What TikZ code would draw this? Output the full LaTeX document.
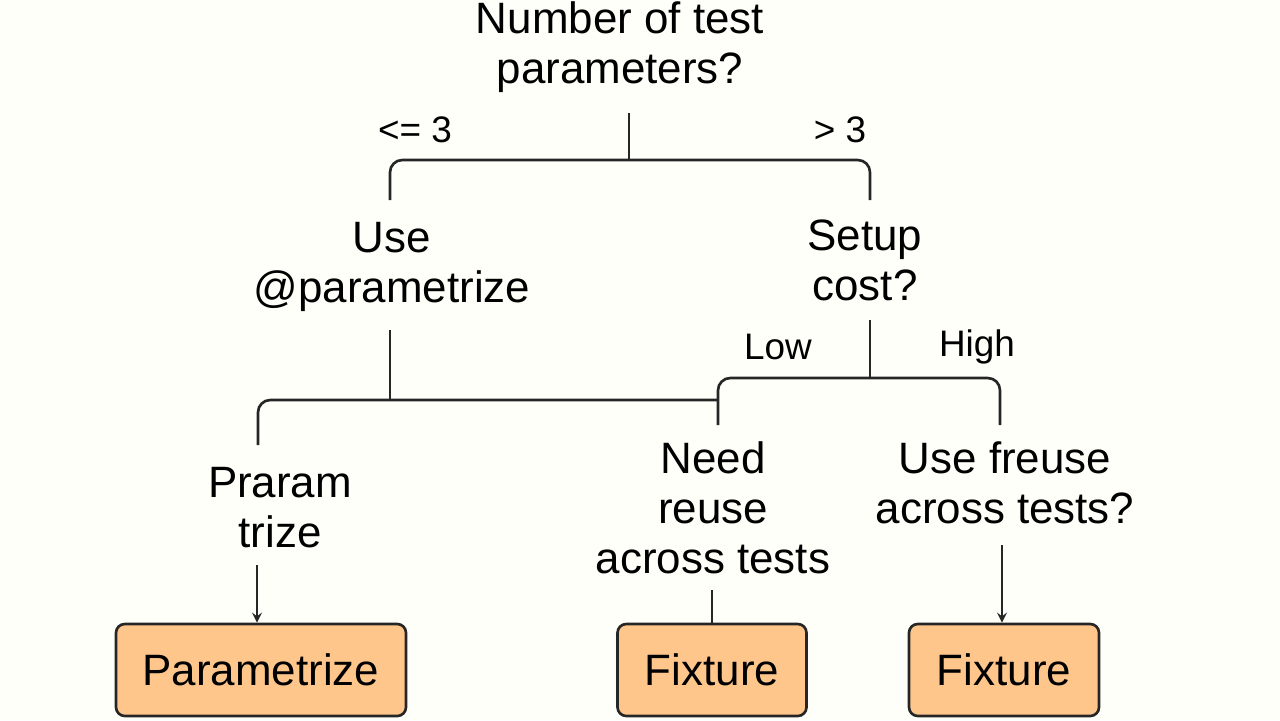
\documentclass[tikz,border=0pt]{standalone}
\usepackage{fontspec}
\setmainfont{Liberation Sans}
\begin{document}
\begin{tikzpicture}[x=0.02cm,y=-0.02cm,
  txt/.style={align=center,font=\fontsize{25}{28.5}\selectfont,inner sep=0pt},
  lbl/.style={font=\fontsize{21}{24}\selectfont,inner sep=0pt},
  ln/.style={line width=1.5pt,draw=black!85,rounded corners=7pt},
  arr/.style={line width=1.5pt,draw=black!85,->,>=stealth},
  box/.style={draw=black!85,line width=1.5pt,fill=orange!45!white,rounded corners=5pt,font=\fontsize{25}{29}\selectfont,inner sep=0pt}]
\fill[yellow!2!white] (0,0) rectangle (1280,720);
\useasboundingbox (0,0) rectangle (1280,720);
\node[txt] (q1) at (620,47) {Number of test\\parameters?};
\node[lbl] (l1) at (415,130) {<= 3};
\node[lbl] (l2) at (840,130) {> 3};
\node[txt] (up) at (392,267) {Use\\@parametrize};
\node[txt] (q2) at (865,260) {Setup\\cost?};
\node[lbl] (l3) at (778,347) {Low};
\node[lbl] (l4) at (977,347) {High};
\node[txt] (pt) at (280,508) {Praram\\trize};
\node[txt] (nr) at (713,508) {Need\\reuse\\across tests};
\node[txt] (uf) at (1005,483) {Use freuse\\across tests?};
\node[box,minimum width=290*0.02cm,minimum height=92*0.02cm] (b1) at (261,670) {Parametrize};
\node[box,minimum width=189*0.02cm,minimum height=92*0.02cm] (b2) at (712,670) {Fixture};
\node[box,minimum width=190*0.02cm,minimum height=92*0.02cm] (b3) at (1004,670) {Fixture};
\coordinate (t1) at (629,113);
\coordinate (t2) at (629,160);
\draw[ln] (t1) -- (t2);
\draw[ln] (390,200) -- (390,160) -- (870,160) -- (870,200);
\draw[ln] (390,330) -- (390,400);
\draw[ln] (258,445) -- (258,400) -- (718,400);
\draw[ln] (870,320) -- (870,378);
\draw[ln] (718,425) -- (718,378) -- (1000,378) -- (1000,425);
\draw[arr] (257,565) -- (b1.north -| 257,0);
\draw[ln] (712,590) -- (b2.north);
\draw[arr] (1002,545) -- (b3.north -| 1002,0);
\end{tikzpicture}
\end{document}
